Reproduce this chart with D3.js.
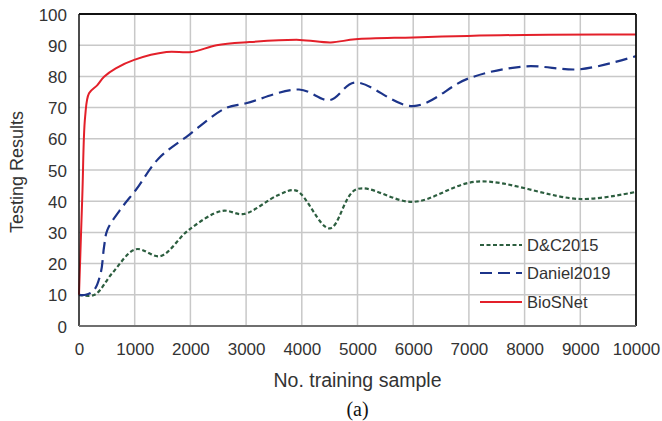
<!DOCTYPE html>
<html>
<head>
<meta charset="utf-8">
<script src="https://cdn.jsdelivr.net/npm/d3@7/dist/d3.min.js"></script>
<style>
  html, body { margin: 0; padding: 0; background: #fff; }
  svg { display: block; font-family: "Liberation Sans", Arial, sans-serif; }
</style>
</head>
<body>
<svg id="chart" width="662" height="421"></svg>
<script>
// ---- data ----
const seriesNames = ["D&C2015", "Daniel2019", "BioSNet"];

const dcSamples  = [0, 280, 600, 1020, 1460, 1970, 2570, 2960, 3580, 3900, 4500, 4980, 6000, 7150, 9000, 10000];
const dcValues   = [10, 10, 17, 24.6, 22.4, 30.8, 36.9, 35.9, 42, 43.4, 31.3, 43.8, 39.8, 46.3, 40.7, 43.0];

const danSamples = [0, 120, 270, 390, 450, 510, 780, 1020, 1430, 1970, 2630, 3000, 3950, 4500, 4950, 6000, 7000, 8000, 9000, 10000];
const danValues  = [10, 10, 11.5, 17, 25.4, 30.8, 38.2, 43.6, 53.7, 61.2, 69.8, 71.4, 75.8, 72.4, 78, 70.5, 79.4, 83.2, 82.3, 86.5];

const bioSamples = [0, 60, 110, 180, 330, 450, 660, 990, 1570, 2020, 2470, 3060, 3960, 4520, 4960, 6000, 8000, 10000];
const bioValues  = [10, 42, 67, 74.6, 77.2, 79.9, 82.6, 85.3, 87.8, 87.8, 90, 91, 91.7, 90.9, 91.9, 92.5, 93.3, 93.4];

const xTicks = [0, 1000, 2000, 3000, 4000, 5000, 6000, 7000, 8000, 9000, 10000];
const yTicks = [0, 10, 20, 30, 40, 50, 60, 70, 80, 90, 100];

// ---- layout ----
const svg = d3.select("#chart");
const L = 79, R = 636, T = 14, B = 326;
const x = d3.scaleLinear().domain([0, 10000]).range([L, R]);
const y = d3.scaleLinear().domain([0, 100]).range([B, T]);

// grid
const grid = svg.append("g");
grid.selectAll("line.h").data(yTicks.filter(d => d > 0 && d < 100)).join("line")
  .attr("x1", L).attr("x2", R).attr("y1", d => y(d)).attr("y2", d => y(d))
  .attr("stroke", "#c8c8c8").attr("stroke-width", 1.5);
grid.selectAll("line.v").data(xTicks.filter(d => d > 0 && d < 10000)).join("line")
  .attr("y1", T).attr("y2", B).attr("x1", d => x(d)).attr("x2", d => x(d))
  .attr("stroke", "#c8c8c8").attr("stroke-width", 1.5);

// axes
const xAxis = d3.axisBottom(x).tickValues(xTicks).tickSize(0).tickPadding(14).tickFormat(d3.format("d"));
const yAxis = d3.axisLeft(y).tickValues(yTicks).tickSize(0).tickPadding(12).tickFormat(d3.format("d"));

const gx = svg.append("g").attr("transform", `translate(0,${B})`).call(xAxis);
gx.select(".domain").remove();
gx.selectAll("text").attr("font-size", 17).attr("fill", "#333").attr("font-family", "Liberation Sans, Arial, sans-serif").attr("dy", "0.9em");

const gy = svg.append("g").attr("transform", `translate(${L},0)`).call(yAxis);
gy.select(".domain").remove();
gy.selectAll("text").attr("font-size", 17).attr("fill", "#333").attr("font-family", "Liberation Sans, Arial, sans-serif").attr("dy", "0.36em");

// series
const line = d3.line().x(d => x(d[0])).y(d => y(d[1])).curve(d3.curveCatmullRom.alpha(0.5));
const series = [
  { name: seriesNames[0], data: d3.zip(dcSamples, dcValues), color: "#2c5e3f", width: 2.2, dash: "4,2.5" },
  { name: seriesNames[1], data: d3.zip(danSamples, danValues), color: "#1c348a", width: 2.2, dash: "12,6" },
  { name: seriesNames[2], data: d3.zip(bioSamples, bioValues), color: "#e3202a", width: 2, dash: null }
];
svg.append("g").selectAll("path").data(series).join("path")
  .attr("d", d => line(d.data))
  .attr("fill", "none")
  .attr("stroke", d => d.color)
  .attr("stroke-width", d => d.width)
  .attr("stroke-dasharray", d => d.dash);

// frame
svg.append("line").attr("x1", L).attr("x2", R).attr("y1", T).attr("y2", T).attr("stroke", "#111").attr("stroke-width", 1.8);
svg.append("line").attr("x1", R).attr("x2", R).attr("y1", T).attr("y2", B).attr("stroke", "#111").attr("stroke-width", 1.8);
svg.append("line").attr("x1", L).attr("x2", L).attr("y1", T).attr("y2", B).attr("stroke", "#111").attr("stroke-width", 1.5);
svg.append("line").attr("x1", L).attr("x2", R).attr("y1", B).attr("y2", B).attr("stroke", "#6f6f6f").attr("stroke-width", 2.2);

// legend
const legY = [245, 273, 302];
const leg = svg.append("g").selectAll("g").data(series).join("g")
  .attr("transform", (d, i) => `translate(480,${legY[i]})`);
leg.append("line").attr("x1", 0).attr("x2", 42).attr("y1", 0).attr("y2", 0)
  .attr("stroke", d => d.color).attr("stroke-width", d => d.width).attr("stroke-dasharray", d => d.dash);
leg.append("text").attr("x", 47).attr("y", 0).attr("dy", "0.36em")
  .attr("font-size", 16.5).attr("fill", "#333").text(d => d.name);

// titles
svg.append("text").attr("x", (L + R) / 2).attr("y", 387).attr("text-anchor", "middle")
  .attr("font-size", 19.5).attr("fill", "#333").text("No. training sample");
svg.append("text").attr("transform", `translate(23,${(T + B) / 2 + 2}) rotate(-90)`).attr("text-anchor", "middle")
  .attr("font-size", 18).attr("fill", "#333").text("Testing Results");
svg.append("text").attr("x", (L + R) / 2).attr("y", 416).attr("text-anchor", "middle")
  .attr("font-family", "Liberation Serif, Times New Roman, serif")
  .attr("font-size", 20).attr("fill", "#111").text("(a)");
</script>
</body>
</html>
